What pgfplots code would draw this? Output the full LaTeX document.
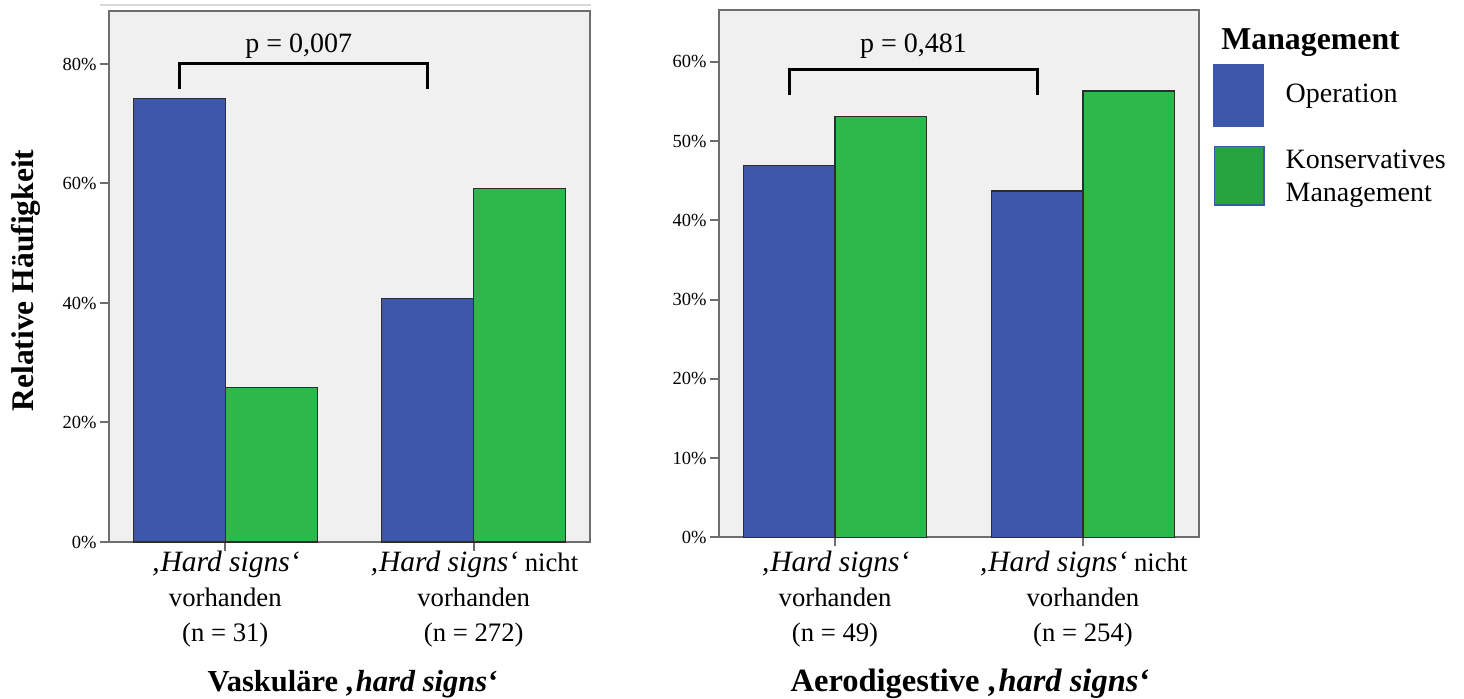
\documentclass[border=0pt]{standalone}
\usepackage{pgfplots}
\pgfplotsset{compat=1.18}
\usepackage{fontspec}
\setmainfont{Liberation Serif}

\definecolor{opblue}{RGB}{61,88,170}
\definecolor{kongreen}{RGB}{46,183,74}
\definecolor{legendgreen}{RGB}{39,163,63}
\definecolor{plotbg}{RGB}{240,240,240}
\definecolor{framegray}{RGB}{110,110,110}
\definecolor{barline}{RGB}{45,45,45}
\definecolor{toplinegray}{RGB}{216,216,216}

% italic "hard signs" phrase in the category labels
\newcommand{\hs}{{\fontsize{14.75}{17.5}\selectfont\itshape ‚Hard signs‘}}

\pgfplotsset{
  panel/.style={
    scale only axis,
    clip=false,
    axis background/.style={fill=plotbg},
    axis line style={draw=framegray, line width=1pt},
    xmin=-0.468, xmax=1.468, ymin=0,
    xtick={0,1},
    tick align=outside, tick pos=left,
    major tick length=4.5pt,
    every tick/.style={draw=framegray, line width=1pt},
    /pgf/number format/assume math mode=true,
    yticklabel={\pgfmathprintnumber{\tick}\%},
    yticklabel style={font=\fontsize{9.25}{11}\selectfont, inner sep=0pt, xshift=-1.5pt},
    xticklabel style={font=\fontsize{13.35}{17.5}\selectfont, align=center, inner sep=0pt},
    xlabel style={at={(axis description cs:0.5,0)}, anchor=base},
  },
  bars/.style={ybar, bar width=0.37, bar shift=0pt, draw=barline, line width=0.6pt},
  bracket/.style={black, line width=1.6pt, sharp plot, mark=none, line join=miter, forget plot},
}

\begin{document}
\begin{tikzpicture}
\useasboundingbox (0pt,0pt) rectangle (732pt,349.5pt);

% Vascular hard signs
\begin{axis}[panel,
  at={(54.5pt,78.5pt)}, anchor=south west,
  width=240.5pt, height=265.5pt,
  ymax=88.87, ytick={0,20,40,60,80},
  xticklabels={{\hs\\vorhanden\\(n = 31)},
               {\hs{} nicht\\vorhanden\\(n = 272)}},
  xlabel={Vaskuläre \textit{‚hard signs‘}},
  xlabel style={xshift=1.5pt, yshift=-75pt, font=\fontsize{15.25}{18}\selectfont\bfseries},
  ylabel={Relative Häufigkeit},
  ylabel style={at={(axis description cs:-0.158,0.4925)}, anchor=base,
                font=\fontsize{15.75}{18}\selectfont\bfseries},
]
\addplot[bars, fill=opblue] coordinates {(-0.185,74.19) (0.815,40.81)};
\addplot[bars, fill=kongreen] coordinates {(0.185,25.81) (1.185,59.19)};
\addplot[bracket] coordinates {(-0.185,75.8) (-0.185,80.1) (0.815,80.1) (0.815,75.8)};
\node[anchor=base, font=\fontsize{14}{16}\selectfont] at (axis cs:0.296,81.84) {p = 0,007};
\draw[toplinegray, line width=1pt] (rel axis cs:-0.0187,1.0113) -- (rel axis cs:1.002,1.0113);
\end{axis}

% Aerodigestive hard signs
\begin{axis}[panel,
  at={(359.5pt,80.75pt)}, anchor=south west,
  width=240pt, height=263.75pt,
  ymax=66.52, ytick={0,10,20,30,40,50,60},
  xticklabels={{\hs\\vorhanden\\(n = 49)},
               {\hs{} nicht\\vorhanden\\(n = 254)}},
  xticklabel style={yshift=-2.25pt},
  xlabel={Aerodigestive \textit{‚hard signs‘}},
  xlabel style={xshift=5.5pt, yshift=-77.25pt, font=\fontsize{16.25}{19}\selectfont\bfseries},
  legend style={at={(axis description cs:1.0292,0.8976)}, anchor=north west,
    draw=none, fill=none, inner sep=0pt, outer sep=0pt,
    row sep=9pt, column sep=10.5pt,
    font=\fontsize{14}{16.5}\selectfont,
    nodes={inner sep=0pt, anchor=base west, text depth=0pt},
    cells={anchor=base west}},
]
\addplot[bars, fill=opblue,
  legend image code/.code={\fill[opblue] (0pt,-12.15pt) rectangle (25pt,18.85pt);}]
  coordinates {(-0.185,46.94) (0.815,43.70)};
\addlegendentry{Operation}
\addplot[bars, fill=kongreen,
  legend image code/.code={\filldraw[fill=legendgreen, draw=opblue, line width=0.75pt]
    (0.375pt,-18.275pt) rectangle (25.125pt,10.975pt);}]
  coordinates {(0.185,53.06) (1.185,56.30)};
\addlegendentry{\begin{tabular}[t]{@{}l@{}}Konservatives\\Management\end{tabular}}
\addplot[bracket] coordinates {(-0.185,55.75) (-0.185,59.0) (0.815,59.0) (0.815,55.75)};
\node[anchor=base, font=\fontsize{14}{16}\selectfont] at (axis cs:0.3165,61.1) {p = 0,481};
\node[anchor=base west, inner sep=0pt, font=\fontsize{15.9}{18}\selectfont\bfseries]
  at (axis description cs:1.0458,0.9242) {Management};
\end{axis}
\end{tikzpicture}
\end{document}
